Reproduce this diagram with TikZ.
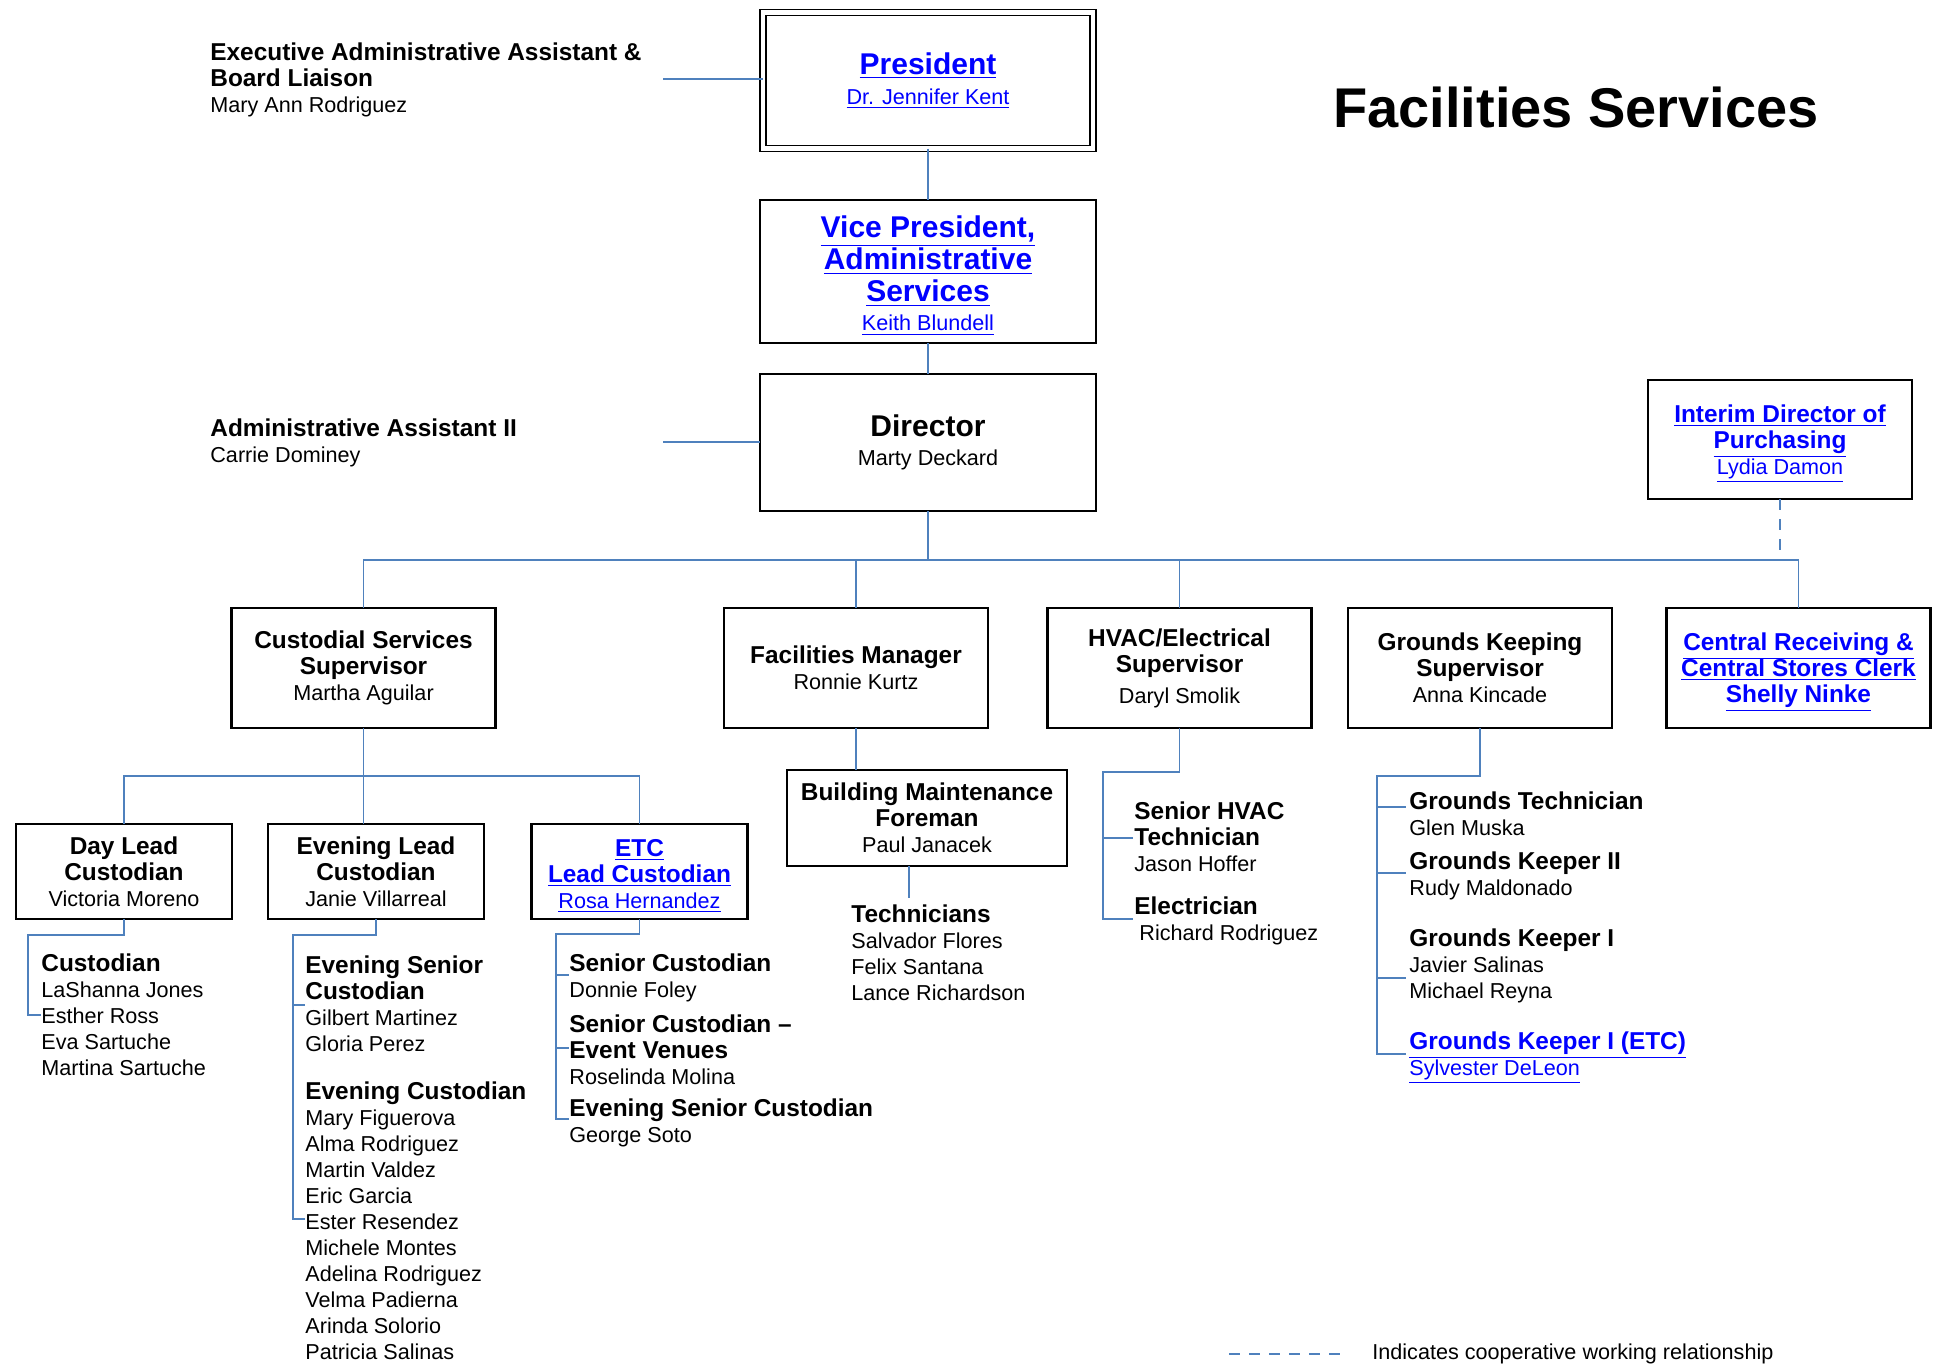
\documentclass[tikz,border=0pt]{standalone}
\usepackage{fontspec}
\setmainfont{Liberation Sans}
\usepackage{tikz}
\definecolor{linecol}{HTML}{4F81BD}
\definecolor{linkcol}{HTML}{0000FF}
\tikzstyle{conn} = [draw=linecol, line width=0.9pt]
\tikzstyle{coop} = [draw=linecol, line width=0.9pt, dash pattern=on 5.5pt off 4.5pt]
\tikzstyle{bigbox} = [draw, line width=1.2pt, inner sep=0pt, outer sep=0pt, align=center, minimum width=168pt]
\tikzstyle{unitbox} = [draw, line width=1.2pt, inner sep=0pt, outer sep=0pt, align=center, minimum width=132pt, minimum height=60pt]
\tikzstyle{leadbox} = [draw, line width=1.2pt, inner sep=0pt, outer sep=0pt, align=center, minimum width=108pt, minimum height=47.5pt]
\tikzstyle{staff} = [anchor=north west, align=left, inner sep=0pt]
\newcommand{\rolefont}{\fontsize{12.2}{13}\selectfont\bfseries}
\newcommand{\headfont}{\fontsize{15}{16}\selectfont\bfseries}
\newcommand{\lnk}[1]{\textcolor{linkcol}{\underline{#1}}}
\newcommand{\topline}{\rule{0pt}{10pt}}
\newcommand{\linkstrut}[1]{\rule{0pt}{#1}}
\lineskiplimit=-20pt

\begin{document}
\begin{tikzpicture}[x=0.5pt, y=-0.5pt, font=\fontsize{10.8}{13}\selectfont]

        \useasboundingbox (0,0) rectangle (1937,1365);

        % Title
        \node (title) at (1576,107) {\fontsize{28}{30}\selectfont\bfseries Facilities Services};

        % President (double frame)
        \node[bigbox, double, double distance=2.4pt, line width=0.7pt, minimum width=165pt, minimum height=68pt] (pres) at (928,80.5)
            {{\headfont\lnk{President}}\\[2pt]\lnk{Dr. Jennifer Kent}};

        % Vice President
        \node[bigbox, minimum height=71.5pt] (vp) at (928,271.5)
            {\linkstrut{15pt}{\headfont\lnk{Vice President,}}\\[3pt]{\headfont\lnk{Administrative}}\\[3pt]{\headfont\lnk{Services}}\\[1.5pt]\lnk{Keith Blundell}};

        % Director
        \node[bigbox, minimum height=68.5pt] (dir) at (928,442.5)
            {{\headfont Director}\\[1.5pt]Marty Deckard};

        % Interim Director of Purchasing
        \node[unitbox, minimum height=59.5pt] (interim) at (1780,439.5)
            {\linkstrut{13pt}{\rolefont\lnk{Interim Director of}}\\{\rolefont\lnk{Purchasing}}\\\lnk{Lydia Damon}};

        % Assistants beside the President and the Director
        \node[staff] (execasst) at (210,40)
            {\topline{\rolefont Executive Administrative Assistant \&}\\{\rolefont Board Liaison}\\Mary Ann Rodriguez};
        \node[staff] (adminasst) at (210,416)
            {\topline{\rolefont Administrative Assistant II}\\Carrie Dominey};

        % Departments
        \node[unitbox] (cust) at (363.5,668) {{\rolefont Custodial Services}\\{\rolefont Supervisor}\\Martha Aguilar};
        \node[unitbox] (fm) at (856,668) {{\rolefont Facilities Manager}\\Ronnie Kurtz};
        \node[unitbox] (hvac) at (1179.5,668) {{\rolefont HVAC/Electrical}\\{\rolefont Supervisor}\\[2.5pt]Daryl Smolik};
        \node[unitbox] (gk) at (1480,668) {{\rolefont Grounds Keeping}\\{\rolefont Supervisor}\\Anna Kincade};
        \node[unitbox] (cr) at (1798.5,668)
            {\linkstrut{13pt}{\rolefont\lnk{Central Receiving \&}}\\{\rolefont\lnk{Central Stores Clerk}}\\{\rolefont\lnk{Shelly Ninke}}};

        % Custodial leads
        \node[leadbox] (daylead) at (124,871.5) {{\rolefont Day Lead}\\{\rolefont Custodian}\\Victoria Moreno};
        \node[leadbox] (evelead) at (376,871.5) {{\rolefont Evening Lead}\\{\rolefont Custodian}\\Janie Villarreal};
        \node[leadbox] (etclead) at (639.5,871.5) {\linkstrut{13pt}{\rolefont\lnk{ETC}}\\{\rolefont\lnk{Lead Custodian}}\\\lnk{Rosa Hernandez}};

        % Building Maintenance Foreman
        \node[leadbox, minimum width=140pt, minimum height=48pt] (bmf) at (927,818)
            {{\rolefont Building Maintenance}\\{\rolefont Foreman}\\Paul Janacek};

        % Staff lists
        \node[staff] (daystaff) at (41,951)
            {\topline{\rolefont Custodian}\\LaShanna Jones\\Esther Ross\\Eva Sartuche\\Martina Sartuche};
        \node[staff] (evestaff) at (305,953)
            {\topline{\rolefont Evening Senior}\\{\rolefont Custodian}\\Gilbert Martinez\\Gloria Perez\\[11pt]
             {\rolefont Evening Custodian}\\Mary Figuerova\\Alma Rodriguez\\Martin Valdez\\Eric Garcia\\Ester Resendez\\
             Michele Montes\\Adelina Rodriguez\\Velma Padierna\\Arinda Solorio\\Patricia Salinas};
        \node[staff] (etcstaff) at (569,951)
            {\topline{\rolefont Senior Custodian}\\Donnie Foley\\[4.5pt]{\rolefont Senior Custodian –}\\{\rolefont Event Venues}\\Roselinda Molina\\[3pt]
             {\rolefont Evening Senior Custodian}\\George Soto};
        \node[staff] (techstaff) at (851,902)
            {\topline{\rolefont Technicians}\\Salvador Flores\\Felix Santana\\Lance Richardson};
        \node[staff] (hvacstaff) at (1134,799)
            {\topline{\rolefont Senior HVAC}\\{\rolefont Technician}\\Jason Hoffer\\[8.5pt]{\rolefont Electrician}\\\hspace*{2.5pt}Richard Rodriguez};
        \node[staff] (gkstaff) at (1409,789)
            {\topline{\rolefont Grounds Technician}\\Glen Muska\\[4pt]{\rolefont Grounds Keeper II}\\Rudy Maldonado\\[12.5pt]
             {\rolefont Grounds Keeper I}\\Javier Salinas\\Michael Reyna\\[12.5pt]
             {\rolefont\lnk{Grounds Keeper I (ETC)}}\\\lnk{Sylvester DeLeon}};

        % President -> VP -> Director
        \draw[conn] (pres.south) -- (vp.north);
        \draw[conn] (vp.south) -- (dir.north);

        % Assistants
        \coordinate (execend) at (663,79);
        \draw[conn] (execend) -- (execend -| pres.west);
        \coordinate (adminend) at (663,442);
        \draw[conn] (adminend) -- (adminend -| dir.west);

        % Director -> departments
        \coordinate (bus) at (928,560);
        \draw[conn] (dir.south) -- (bus);
        \draw[conn] (cust.north) |- (bus) -| (cr.north);
        \draw[conn] (fm.north) -- (fm.north |- bus);
        \draw[conn] (hvac.north) -- (hvac.north |- bus);
        \draw[coop] (interim.south) -- (interim.south |- bus);     % Purchasing - - Receiving

        % Custodial -> leads
        \coordinate (custbus) at (363.5,776);
        \draw[conn] (cust.south) -- (cust.south |- evelead.north);
        \draw[conn] (daylead.north) |- (custbus) -| (etclead.north);

        % Facilities Manager -> Foreman -> Technicians
        \draw[conn] (fm.south) -- (fm.south |- bmf.north);
        \coordinate (techtop) at (909,898);
        \draw[conn, line width=0.6pt] (techtop |- bmf.south) -- (techtop);

        % Day lead bracket
        \coordinate (daybend) at (28,935);
        \coordinate (daytick) at (41,1015);
        \draw[conn] (daylead.south) |- (daybend) |- (daytick);

        % Evening lead bracket
        \coordinate (evebend) at (293,935);
        \coordinate (evetick) at (305,1219);
        \coordinate (evetickA) at (305,1005);
        \draw[conn] (evelead.south) |- (evebend) |- (evetick);
        \draw[conn] (evetickA -| evebend) -- (evetickA);

        % ETC lead bracket
        \coordinate (etcbend) at (556,934);
        \coordinate (etctick) at (569,1119);
        \coordinate (etctickA) at (569,975);
        \coordinate (etctickB) at (569,1048);
        \draw[conn] (etclead.south) |- (etcbend) |- (etctick);
        \draw[conn] (etctickA -| etcbend) -- (etctickA);
        \draw[conn] (etctickB -| etcbend) -- (etctickB);

        % HVAC bracket
        \coordinate (hvacbend) at (1103,772);
        \coordinate (hvactick) at (1133,919);
        \coordinate (hvactickA) at (1133,838);
        \draw[conn] (hvac.south) |- (hvacbend) |- (hvactick);
        \draw[conn] (hvactickA -| hvacbend) -- (hvactickA);

        % Grounds bracket
        \coordinate (gkbend) at (1377,776);
        \coordinate (gktick) at (1406,1054);
        \coordinate (gktickA) at (1406,807);
        \coordinate (gktickB) at (1406,873);
        \coordinate (gktickC) at (1406,978);
        \draw[conn] (gk.south) |- (gkbend) |- (gktick);
        \draw[conn] (gktickA -| gkbend) -- (gktickA);
        \draw[conn] (gktickB -| gkbend) -- (gktickB);
        \draw[conn] (gktickC -| gkbend) -- (gktickC);

        % Legend
        \coordinate (legA) at (1229,1354);
        \coordinate (legB) at (1349,1354);
        \draw[coop] (legA) -- (legB);
        \node[anchor=west, inner sep=0pt] (legend) at (1372,1354) {Indicates cooperative working relationship};

\end{tikzpicture}
\end{document}
